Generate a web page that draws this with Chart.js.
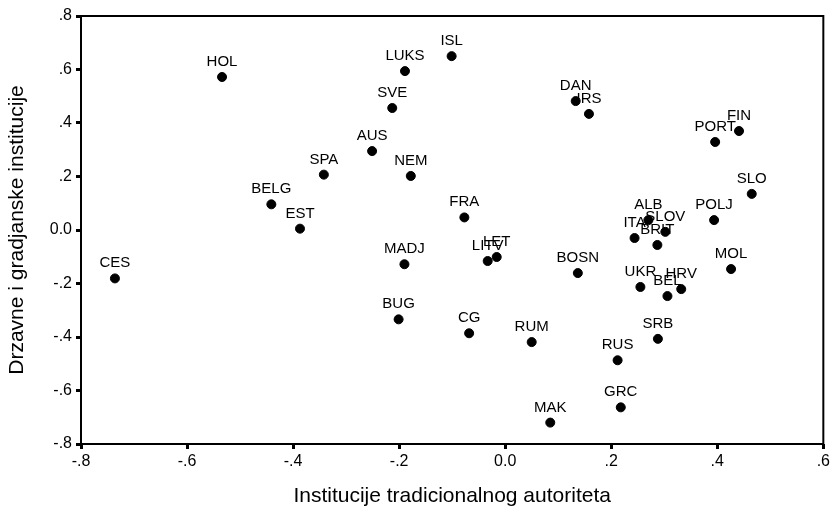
<!DOCTYPE html>
<html>
<head>
<meta charset="utf-8">
<script src="https://cdn.jsdelivr.net/npm/chart.js@4"></script>
<style>
  html, body { margin: 0; padding: 0; background: #fff; }
  #wrap { width: 833px; height: 519px; }
</style>
</head>
<body>
<div id="wrap"><canvas id="chart"></canvas></div>
<script>
// country codes and their coordinates
const countries = ['CES', 'HOL', 'LUKS', 'ISL', 'SVE', 'AUS', 'SPA', 'NEM', 'BELG', 'EST',
  'FRA', 'MADJ', 'LITV', 'LET', 'BUG', 'CG', 'RUM', 'RUS', 'SRB', 'GRC',
  'MAK', 'BOSN', 'DAN', 'IRS', 'UKR', 'BEL', 'HRV', 'ITA', 'ALB', 'SLOV',
  'BRIT', 'POLJ', 'MOL', 'PORT', 'FIN', 'SLO'];
const traditional = [-0.736, -0.534, -0.189, -0.101, -0.213, -0.251, -0.342, -0.178, -0.441, -0.387,
  -0.077, -0.190, -0.033, -0.016, -0.201, -0.068, 0.050, 0.212, 0.288, 0.218,
  0.085, 0.137, 0.133, 0.158, 0.255, 0.306, 0.332, 0.244, 0.270, 0.302,
  0.287, 0.394, 0.426, 0.396, 0.441, 0.465];
const civic = [-0.181, 0.572, 0.594, 0.650, 0.456, 0.295, 0.207, 0.202, 0.096, 0.005,
  0.047, -0.128, -0.116, -0.101, -0.334, -0.386, -0.419, -0.487, -0.407, -0.663,
  -0.720, -0.161, 0.482, 0.434, -0.213, -0.247, -0.221, -0.030, 0.037, -0.007,
  -0.056, 0.037, -0.146, 0.329, 0.370, 0.135];

const xTitle = 'Institucije tradicionalnog autoriteta';
const yTitle = 'Drzavne i gradjanske institucije';

const FONT = '"Liberation Sans", Arial, sans-serif';

function fmtTick(v) {
  if (Math.abs(v) < 1e-9) return '0.0';
  return v.toFixed(1).replace('0.', '.');
}

// point labels drawn above each dot
const pointLabels = {
  id: 'pointLabels',
  afterDatasetsDraw(chart) {
    const ctx = chart.ctx;
    const meta = chart.getDatasetMeta(0);
    ctx.save();
    ctx.font = '15px ' + FONT;
    ctx.fillStyle = '#000';
    ctx.textAlign = 'center';
    ctx.textBaseline = 'alphabetic';
    meta.data.forEach((pt, i) => {
      ctx.fillText(countries[i], pt.x, pt.y - 11);
    });
    ctx.restore();
  }
};

// frame around the plot area
const frame = {
  id: 'frame',
  beforeDatasetsDraw(chart) {
    const { ctx, chartArea: a } = chart;
    ctx.save();
    ctx.strokeStyle = '#000';
    ctx.lineWidth = 2;
    ctx.strokeRect(a.left, a.top, a.right - a.left, a.bottom - a.top);
    ctx.restore();
  }
};

new Chart(document.getElementById('chart'), {
  type: 'scatter',
  data: {
    datasets: [{
      data: countries.map((c, i) => ({ x: traditional[i], y: civic[i] })),
      backgroundColor: '#000',
      borderColor: '#000',
      pointRadius: 4.5,
      pointHoverRadius: 4.5
    }]
  },
  options: {
    responsive: true,
    maintainAspectRatio: false,
    animation: false,
    events: [],
    layout: { autoPadding: false, padding: { left: 0, right: 5, top: 16, bottom: 0 } },
    plugins: { legend: { display: false }, tooltip: { enabled: false } },
    scales: {
      x: {
        type: 'linear',
        min: -0.8, max: 0.6,
        afterFit: (s) => { s.height = 75; },
        border: { display: false },
        grid: { drawOnChartArea: false, tickLength: 5, tickWidth: 3, tickColor: '#000' },
        ticks: { stepSize: 0.2, padding: 3, color: '#000', font: { family: FONT, size: 16 }, maxRotation: 0, callback: fmtTick },
        title: { display: true, text: xTitle, color: '#000', font: { family: FONT, size: 21 }, padding: { top: 0, bottom: 10 } }
      },
      y: {
        type: 'linear',
        min: -0.8, max: 0.8,
        afterFit: (s) => { s.width = 81; },
        border: { display: false },
        grid: { drawOnChartArea: false, tickLength: 5, tickWidth: 3, tickColor: '#000' },
        ticks: { stepSize: 0.2, padding: 4, color: '#000', font: { family: FONT, size: 16 }, callback: fmtTick },
        title: { display: true, text: yTitle, color: '#000', font: { family: FONT, size: 21 }, padding: { top: 5, bottom: 0 } }
      }
    }
  },
  plugins: [frame, pointLabels]
});
</script>
</body>
</html>
